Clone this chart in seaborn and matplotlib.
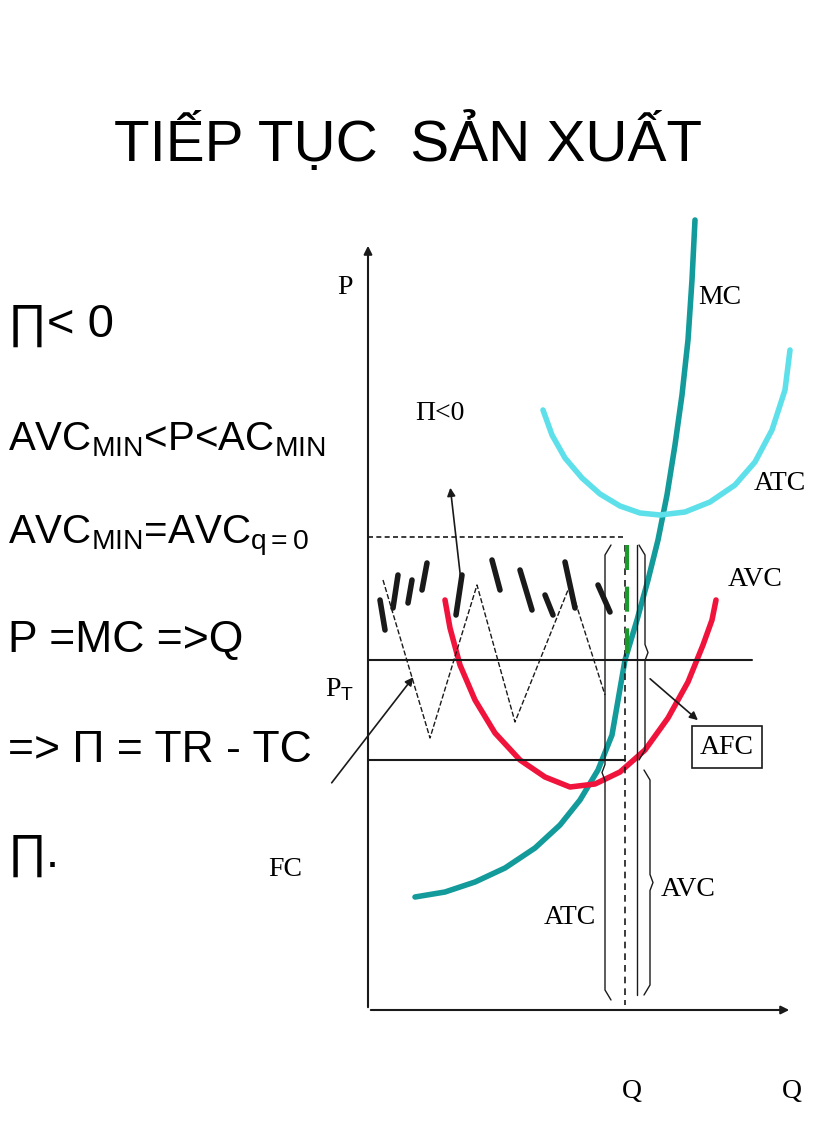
import matplotlib
matplotlib.use("Agg")
import matplotlib.pyplot as plt
import seaborn as sns
import numpy as np
import pandas as pd

sns.set_theme(style="white")
plt.rcParams['font.family'] = ['Liberation Sans', 'DejaVu Sans']
plt.rcParams['text.color'] = 'black'
plt.rcParams['mathtext.fontset'] = 'custom'
plt.rcParams['mathtext.rm'] = 'Liberation Sans'
plt.rcParams['mathtext.it'] = 'Liberation Sans'

# curve data (diagram coordinates)
mc_x = [415, 445, 475, 505, 535, 560, 580, 598, 612, 625, 637, 648, 658, 667, 675, 682, 688, 692, 695]
mc_y = [897, 892, 882, 868, 848, 825, 800, 770, 735, 660, 620, 580, 540, 495, 445, 395, 340, 280, 220]
atc_x = [543, 552, 565, 582, 600, 620, 640, 660, 685, 710, 735, 755, 772, 785, 790]
atc_y = [410, 435, 458, 478, 494, 506, 513, 515, 512, 502, 485, 462, 430, 390, 350]
avc_x = [445, 450, 460, 475, 495, 520, 545, 570, 595, 620, 645, 668, 688, 703, 712, 716]
avc_y = [600, 628, 665, 700, 733, 760, 777, 787, 784, 772, 750, 718, 682, 645, 620, 600]
zig_x = [383, 430, 477, 515, 570, 605]
zig_y = [580, 738, 585, 722, 585, 695]

left_lines = [r"∏< 0", r"AVC$_{\mathrm{MIN}}$<P<AC$_{\mathrm{MIN}}$",
              r"AVC$_{\mathrm{MIN}}$=AVC$_{\mathrm{q=0}}$", "P =MC =>Q",
              "=> Π = TR - TC", "∏."]
left_y = [325, 440, 535, 640, 750, 855]

fig = plt.figure(figsize=(8.16, 11.23), dpi=100)
ax = fig.add_axes([0, 0, 1, 1])
ax.set_xlim(0, 816); ax.set_ylim(1123, 0); ax.axis('off')

sns.lineplot(x=mc_x, y=mc_y, sort=False, ax=ax, color='#139a9a', lw=4)
sns.lineplot(x=atc_x, y=atc_y, sort=False, ax=ax, color='#5ee0ea', lw=4)
sns.lineplot(x=avc_x, y=avc_y, sort=False, ax=ax, color='#f0143c', lw=4)
ax.plot(zig_x, zig_y, 'k--', lw=1)

# axes
ax.annotate('', xy=(368, 243), xytext=(368, 1010), arrowprops=dict(arrowstyle='-|>', color='k', lw=1.5))
ax.annotate('', xy=(792, 1010), xytext=(368, 1010), arrowprops=dict(arrowstyle='-|>', color='k', lw=1.5))
ax.plot([368, 752], [660, 660], 'k', lw=1.5)
ax.plot([368, 625], [760, 760], 'k', lw=1.5)
ax.plot([368, 625], [537, 537], 'k', ls=(0, (3, 2)), lw=1.2)
ax.plot([625, 625], [545, 1005], 'k', ls=(0, (4, 3)), lw=1.2)
ax.plot([627, 627], [545, 660], color='#1a9a2a', ls=(0, (6, 4)), lw=3)
ax.plot([637, 637], [545, 995], 'k', lw=1)

def brace(x, y0, y1, w, side):
    ym = (y0 + y1) / 2
    ax.plot([x + side * w, x, x, x - side * w * 0.5, x, x, x + side * w],
            [y0, y0 + 10, ym - 8, ym, ym + 8, y1 - 10, y1], 'k', lw=1)
brace(605, 545, 1000, 6, 1)
brace(645, 545, 760, 6, -1)
brace(650, 770, 995, 6, -1)

for x0, y0, x1, y1 in [(380, 600, 385, 630), (398, 575, 393, 608), (427, 563, 422, 590),
                       (412, 580, 408, 603), (462, 575, 456, 615), (492, 560, 500, 590),
                       (520, 570, 532, 610), (545, 595, 553, 615), (565, 562, 575, 608),
                       (598, 585, 610, 612)]:
    ax.plot([x0, x1], [y0, y1], 'k', lw=4)

aprops = dict(arrowstyle='-|>', color='k', lw=1.2)
ax.annotate('', xy=(450, 485), xytext=(462, 590), arrowprops=aprops)
ax.annotate('', xy=(415, 675), xytext=(330, 785), arrowprops=aprops)
ax.annotate('', xy=(700, 722), xytext=(648, 677), arrowprops=aprops)

ax.text(408, 143, "TIẾP TỤC  SẢN XUẤT", ha='center', va='center', fontsize=42)
sizes = [34, 29, 29, 32, 32, 34]
for t, y, s in zip(left_lines, left_y, sizes):
    ax.text(8, y, t, ha='left', va='center', fontsize=s)

serif = ['Liberation Serif', 'DejaVu Serif']
for t, x, y in [("P", 345, 287), ("MC", 720, 297), ("Π<0", 440, 413), ("ATC", 780, 483),
                ("AVC", 755, 580), ("FC", 285, 870), ("ATC", 570, 917), ("AVC", 688, 890),
                ("Q", 632, 1092), ("Q", 792, 1092)]:
    ax.text(x, y, t, ha='center', va='center', fontsize=20, family=serif)
ax.text(340, 690, r"P$_\mathrm{T}$", ha='center', va='center', fontsize=20, family=serif)
ax.text(727, 747, "AFC", ha='center', va='center', fontsize=20, family=serif,
        bbox=dict(boxstyle='square,pad=0.3', fc='white', ec='k', lw=1.2))

fig.savefig("out.png", dpi=100)
